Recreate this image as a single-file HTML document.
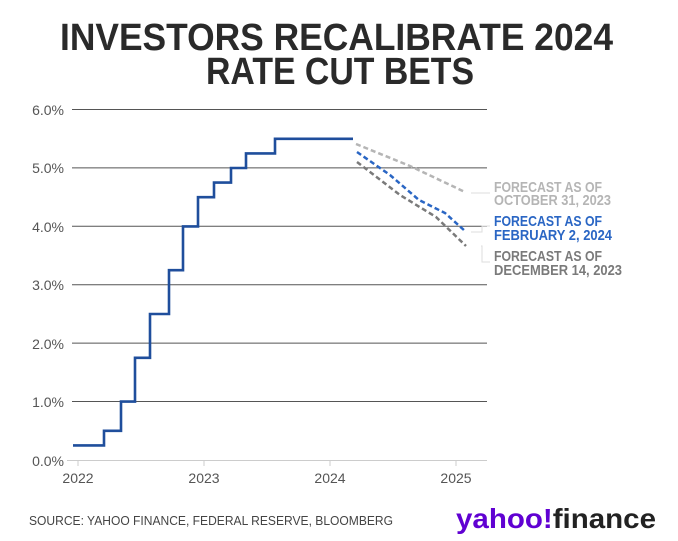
<!DOCTYPE html>
<html><head><meta charset="utf-8"><style>
html,body{margin:0;padding:0;background:#fff;}
body{width:678px;height:541px;overflow:hidden;position:relative;font-family:"Liberation Sans",sans-serif;}
.t{position:absolute;left:0;width:678px;text-align:center;font-weight:bold;font-size:36px;color:#2a2a2a;line-height:36px;}
</style></head><body>
<svg width="678" height="541" style="position:absolute;left:0;top:0" xmlns="http://www.w3.org/2000/svg">
<g font-family="Liberation Sans, sans-serif" font-weight="bold" font-size="38" fill="#2a2a2a">
<text x="60" y="50" textLength="553" lengthAdjust="spacingAndGlyphs">INVESTORS RECALIBRATE 2024</text>
<text x="206" y="84" textLength="268" lengthAdjust="spacingAndGlyphs">RATE CUT BETS</text>
</g>
<g stroke="#555" stroke-width="1">
<line x1="72" x2="487" y1="109.5" y2="109.5"/>
<line x1="72" x2="487" y1="167.9" y2="167.9"/>
<line x1="72" x2="487" y1="226.3" y2="226.3"/>
<line x1="72" x2="487" y1="284.7" y2="284.7"/>
<line x1="72" x2="487" y1="343.1" y2="343.1"/>
<line x1="72" x2="487" y1="401.5" y2="401.5"/>
</g>
<line x1="67" x2="487" y1="460.5" y2="460.5" stroke="#ccc"/>
<g stroke="#ccc"><line x1="78" x2="78" y1="460" y2="466"/><line x1="204" x2="204" y1="460" y2="466"/><line x1="330" x2="330" y1="460" y2="466"/><line x1="456" x2="456" y1="460" y2="466"/></g>
<g font-family="Liberation Sans, sans-serif" font-size="14" fill="#555" text-anchor="end">
<text x="64" y="115">6.0%</text><text x="64" y="173">5.0%</text><text x="64" y="232">4.0%</text>
<text x="64" y="290">3.0%</text><text x="64" y="349">2.0%</text><text x="64" y="407">1.0%</text><text x="64" y="466">0.0%</text>
</g>
<g font-family="Liberation Sans, sans-serif" font-size="14" fill="#555" text-anchor="middle">
<text x="78" y="483">2022</text><text x="204" y="483">2023</text><text x="330" y="483">2024</text><text x="456" y="483">2025</text>
</g>
<path fill="none" stroke="#1f4e9c" stroke-width="2.6" d="M73 445.4H104V430.8H121V401.6H135V357.8H150V314H169V270.2H183V226.4H198V197.2H214V182.6H231V168H246V153.4H275V138.8H353"/>
<polyline fill="none" stroke="#b5b5b5" stroke-width="2.5" stroke-dasharray="5,3" points="356,144 410,166 465,192"/>
<polyline fill="none" stroke="#2a66c4" stroke-width="2.5" stroke-dasharray="5,3" points="357,152 390,175 419,200 445,213 465,231"/>
<polyline fill="none" stroke="#7a7a7a" stroke-width="2.5" stroke-dasharray="5,3" points="357,162 400,195 436,217 466,246"/>
<g stroke="#ddd" fill="none"><path d="M471 193H490"/><path d="M471 232H482V226H490"/><path d="M481 246H482V262H490"/></g>
<g font-family="Liberation Sans, sans-serif" font-weight="bold" font-size="15" lengthAdjust="spacingAndGlyphs">
<text x="494" y="192" fill="#b5b5b5" textLength="108" lengthAdjust="spacingAndGlyphs">FORECAST AS OF</text><text x="494" y="205" fill="#b5b5b5" textLength="117" lengthAdjust="spacingAndGlyphs">OCTOBER 31, 2023</text>
<text x="494" y="226" fill="#2a66c4" textLength="108" lengthAdjust="spacingAndGlyphs">FORECAST AS OF</text><text x="494" y="240" fill="#2a66c4" textLength="118" lengthAdjust="spacingAndGlyphs">FEBRUARY 2, 2024</text>
<text x="494" y="261" fill="#7a7a7a" textLength="108" lengthAdjust="spacingAndGlyphs">FORECAST AS OF</text><text x="494" y="275" fill="#7a7a7a" textLength="128" lengthAdjust="spacingAndGlyphs">DECEMBER 14, 2023</text>
</g>
<text x="29" y="525" font-family="Liberation Sans, sans-serif" font-size="13" fill="#444" textLength="364" lengthAdjust="spacingAndGlyphs">SOURCE: YAHOO FINANCE, FEDERAL RESERVE, BLOOMBERG</text>
<text x="456" y="528" font-family="Liberation Sans, sans-serif" font-weight="bold" font-size="28" textLength="200" lengthAdjust="spacingAndGlyphs"><tspan fill="#6001d2">yahoo!</tspan><tspan fill="#222">finance</tspan></text>
</svg>
</body></html>
